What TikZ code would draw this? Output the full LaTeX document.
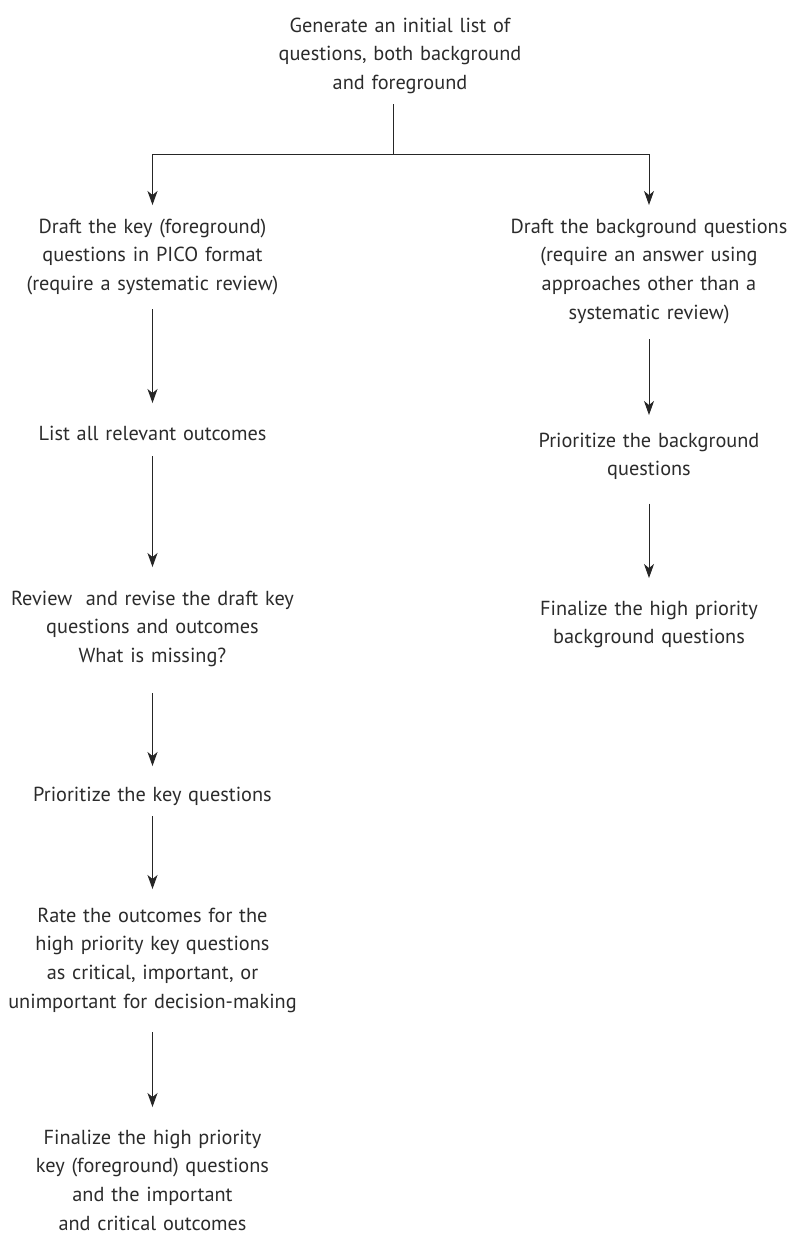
\documentclass[tikz,border=0pt]{standalone}
\usepackage{fontspec}
\setmainfont{PT Sans}
\usetikzlibrary{arrows.meta}
\definecolor{txtc}{HTML}{2B2B2B}
\definecolor{linec}{HTML}{262626}
\tikzset{
  txt/.style={inner sep=0pt, outer sep=0pt, anchor=base, text width=330pt, align=center,
    text=txtc, font=\fontsize{20.3}{28.7}\selectfont},
  conn/.style={draw=linec, line width=1pt},
  arr/.style={conn, -{Stealth[length=14pt,width=10pt,inset=4pt]}}
}
\begin{document}
\begin{tikzpicture}[x=1pt,y=-1pt]
\useasboundingbox (0,0) rectangle (789,1234);
% nodes (placed at first baseline)
\node[txt] (T) at (400,32) {\strut Generate an initial list of\\questions, both background\\and foreground\strut};
\node[txt] (L1) at (152.5,233) {\strut Draft the key (foreground)\\questions in PICO format\\(require a systematic review)\strut};
\node[txt] (L2) at (152.5,440) {\strut List all relevant outcomes\strut};
\node[txt] (L3) at (152.5,605) {\strut Review\ \ and revise the draft key\\questions and outcomes\\What is missing?\strut};
\node[txt] (L4) at (152.5,801) {\strut Prioritize the key questions\strut};
\node[txt] (L5) at (152.5,922) {\strut Rate the outcomes for the\\high priority key questions\\as critical, important, or\\unimportant for decision-making\strut};
\node[txt] (L6) at (152.5,1144) {\strut Finalize the high priority\\key (foreground) questions\\and the important\\and critical outcomes};
\node[txt] (R1) at (649,233) {\strut Draft the background questions\\(require an answer using\\approaches other than a\\systematic review)\strut};
\node[txt] (R2) at (649,447) {\strut Prioritize the background\\questions\strut};
\node[txt] (R3) at (649,615) {\strut Finalize the high priority\\background questions\strut};
% split point
\coordinate (split) at (393,154);
\draw[conn] ([yshift=-6.4pt]T.south -| split) -- (split);
\draw[arr] (split) -| ([yshift=7.9pt]L1.north);
\draw[arr] (split) -| ([yshift=7.9pt]R1.north);
% left column
\draw[arr] ([yshift=-10.4pt]L1.south) -- ([yshift=16.9pt]L2.north);
\draw[arr] ([yshift=-7.4pt]L2.south) -- ([yshift=17.9pt]L3.north);
\draw[arr] ([yshift=-22.4pt]L3.south) -- ([yshift=14.9pt]L4.north);
\draw[arr] ([yshift=-6.4pt]L4.south) -- ([yshift=12.9pt]L5.north);
\draw[arr] ([yshift=-15.4pt]L5.south) -- ([yshift=16.9pt]L6.north);
% right column
\draw[arr] ([yshift=-11.4pt]R1.south) -- ([yshift=11.9pt]R2.north);
\draw[arr] ([yshift=-19.4pt]R2.south) -- ([yshift=16.9pt]R3.north);
\end{tikzpicture}
\end{document}
